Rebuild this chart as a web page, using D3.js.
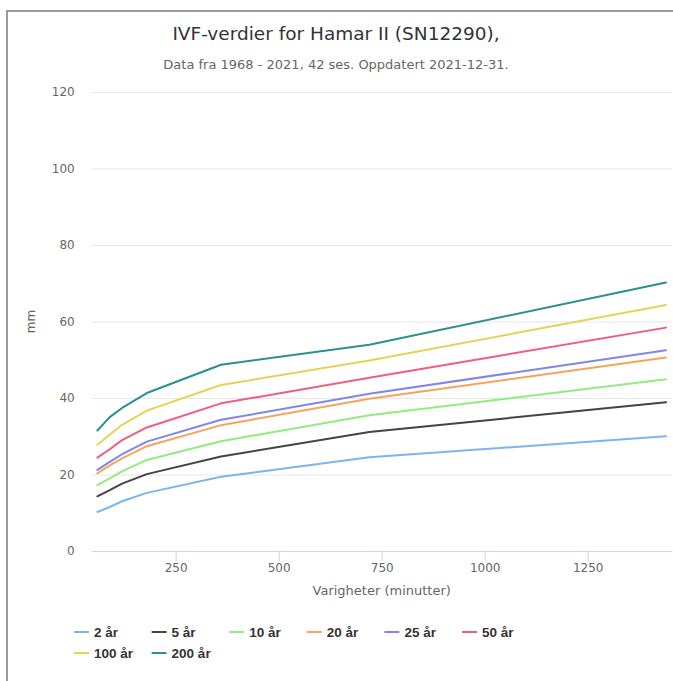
<!DOCTYPE html>
<html>
<head>
<meta charset="utf-8">
<script src="https://cdn.jsdelivr.net/npm/d3@7"></script>
<style>
  body { margin: 0; background: #fff; overflow: hidden; }
  svg { display: block; font-family: "DejaVu Sans", sans-serif; }
</style>
</head>
<body>
<div id="chart"></div>
<script>
/* IVF values (intensity-duration-frequency) for Hamar II */

const durations = [60, 90, 120, 180, 360, 720, 1440];
const seriesNames = ["2 år", "5 år", "10 år", "20 år", "25 år", "50 år", "100 år", "200 år"];
const colors = ["#7cb5ec", "#434348", "#90ed7d", "#f7a35c", "#8085e9", "#f15c80", "#e4d354", "#2b908f"];

const v2 = [10.2, 11.5, 13.0, 15.2, 19.4, 24.5, 30.0];
const v5 = [14.3, 15.9, 17.6, 20.1, 24.7, 31.1, 38.9];
const v10 = [17.2, 19.0, 20.8, 23.8, 28.7, 35.5, 44.9];
const v20 = [20.3, 22.4, 24.2, 27.4, 32.9, 39.8, 50.6];
const v25 = [21.2, 23.3, 25.3, 28.6, 34.3, 41.1, 52.5];
const v50 = [24.4, 26.6, 29.0, 32.3, 38.6, 45.3, 58.4];
const v100 = [27.8, 30.4, 33.0, 36.7, 43.4, 49.8, 64.3];
const v200 = [31.5, 35.0, 37.4, 41.3, 48.7, 53.9, 70.2];

const yTicks = [0, 20, 40, 60, 80, 100, 120];
const xTicks = [250, 500, 750, 1000, 1250];

const allValues = [v2, v5, v10, v20, v25, v50, v100, v200];

/* size of the page and the plot area */
const width = 673,
      height = 681,
      margin = ({ top: 92, right: 1.3, bottom: 130, left: 91.7 });

let svg = d3.select("#chart")
    .append("svg")
    .attr("width", width)
    .attr("height", height);

/* frame round the chart (only left and top edges are in view) */
svg.append("path")
    .attr("d", `M7,${height} V11 H${width}`)
    .attr("fill", "none")
    .attr("stroke", "#9a9a9a")
    .attr("stroke-width", 2);

/* x scale has a small padding on each side, like highcharts does */
const pad = (durations[durations.length - 1] - durations[0]) * 0.01;
const x = d3.scaleLinear()
    .domain([durations[0] - pad, durations[durations.length - 1] + pad])
    .range([margin.left, width - margin.right]);

const y = d3.scaleLinear()
    .domain([0, 120])
    .range([height - margin.bottom, margin.top]);

/* titles */
svg.append("text")
    .attr("x", 336)
    .attr("y", 40)
    .attr("text-anchor", "middle")
    .style("font-size", "18.5px")
    .style("fill", "#333333")
    .text("IVF-verdier for Hamar II (SN12290),");

svg.append("text")
    .attr("x", 336)
    .attr("y", 69)
    .attr("text-anchor", "middle")
    .style("font-size", "13px")
    .style("fill", "#666666")
    .text("Data fra 1968 - 2021, 42 ses. Oppdatert 2021-12-31.");

/* grid lines and y labels */
const yAxis = g => g
    .attr("transform", `translate(${margin.left}, 0)`)
    .call(d3.axisLeft(y).tickValues(yTicks).tickSize(-(width - margin.right - margin.left)).tickPadding(17))
    .call(g => g.select(".domain").remove())
    .call(g => g.selectAll(".tick line").attr("stroke", "#e6e6e6"))
    .call(g => g.selectAll(".tick text")
        .style("font-size", "12px")
        .style("font-family", "\"DejaVu Sans\", sans-serif")
        .attr("fill", "#666666"));

svg.append("g").call(yAxis);

/* x axis */
const xAxis = g => g
    .attr("transform", `translate(0, ${height - margin.bottom})`)
    .call(d3.axisBottom(x).tickValues(xTicks).tickFormat(d3.format("d"))
        .tickSize(10).tickPadding(2).tickSizeOuter(0))
    .call(g => g.select(".domain").attr("stroke", "#ccd6eb"))
    .call(g => g.selectAll(".tick line").attr("stroke", "#ccd6eb"))
    .call(g => g.selectAll(".tick text")
        .style("font-size", "12px")
        .style("font-family", "\"DejaVu Sans\", sans-serif")
        .attr("fill", "#666666"));

svg.append("g").call(xAxis);

/* axis titles */
svg.append("text")
    .attr("transform", `translate(35, ${(y(0) + y(120)) / 2}) rotate(-90)`)
    .attr("text-anchor", "middle")
    .style("font-size", "12px")
    .style("fill", "#666666")
    .text("mm");

svg.append("text")
    .attr("x", (x.range()[0] + x.range()[1]) / 2)
    .attr("y", 595)
    .attr("text-anchor", "middle")
    .style("font-size", "13px")
    .style("fill", "#666666")
    .text("Varigheter (minutter)");

/* the lines */
const line = d3.line()
    .x((d, i) => x(durations[i]))
    .y(d => y(d));

svg.append("g")
    .selectAll("path")
    .data(allValues)
    .join("path")
    .attr("d", line)
    .attr("fill", "none")
    .attr("stroke", (d, i) => colors[i])
    .attr("stroke-width", 2)
    .attr("stroke-linejoin", "round")
    .attr("stroke-linecap", "round");

/* legend, six items on a row */
let legend = svg.append("g")
    .selectAll("g")
    .data(seriesNames)
    .join("g")
    .attr("transform", (d, i) => `translate(${74 + (i % 6) * 77.6}, ${632 + Math.floor(i / 6) * 21})`);

legend.append("line")
    .attr("x1", 0)
    .attr("x2", 15)
    .attr("stroke", (d, i) => colors[i])
    .attr("stroke-width", 2);

legend.append("text")
    .attr("x", 20)
    .attr("y", 5)
    .style("font-family", "\"Liberation Sans\", Arial, sans-serif")
    .style("font-size", "13.5px")
    .style("font-weight", "bold")
    .style("fill", "#333333")
    .text(d => d);
</script>
</body>
</html>
